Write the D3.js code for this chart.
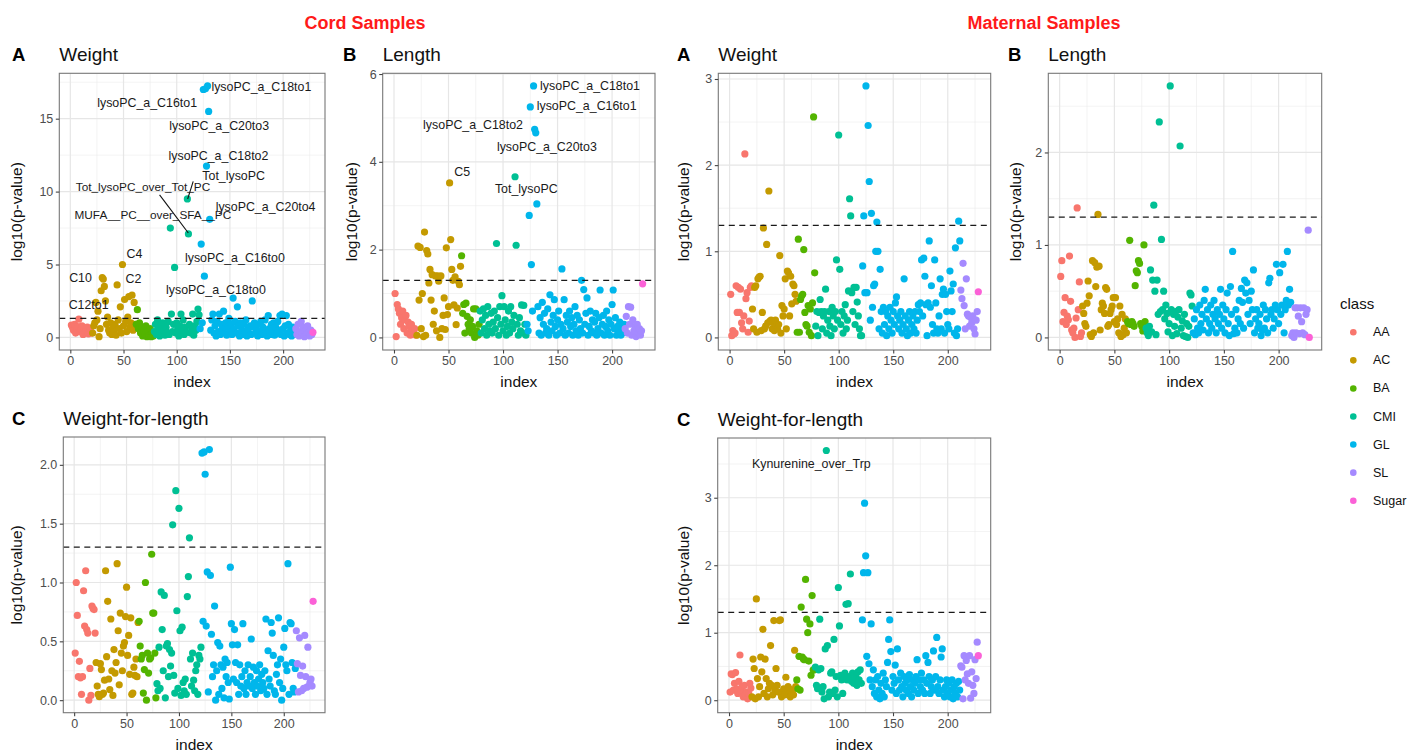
<!DOCTYPE html>
<html><head><meta charset="utf-8">
<script src="https://cdn.jsdelivr.net/npm/d3@7"></script>
<style>body{margin:0;background:#fff}svg text{font-family:"Liberation Sans",Arial,Helvetica,sans-serif}</style>
</head><body><svg id="c" width="1413" height="753"></svg>
<script>
// ---------- classes ----------
const classNames = ["AA","AC","BA","CMI","GL","SL","Sugar"];
const classColors = ["#F8766D","#C49A00","#53B400","#00C094","#00B6EB","#A58AFF","#FB61D7"];
const classStarts = [1,21,62,79,122,212,228];

// ---------- series (index 1..228) ----------
const cordWeight = [
 0.85,0.7,0.5,0.9,0.3,0.6,0.75,1.25,0.4,0.55,0.8,0.2,0.65,0.35,0.5,0.7,0.25,0.45,0.6,0.3,
 0.3,0.8,1.0,2.4,1.2,1.8,0.05,0.6,3.2,4.1,4.0,3.5,2.5,0.9,1.4,0.5,0.3,1.0,0.2,0.7,0.4,0.9,0.15,3.6,1.2,0.6,2.1,0.3,5.0,0.8,2.6,1.1,0.4,1.4,2.8,0.7,1.0,2.9,0.5,2.4,0.9,
 0.9,1.9,0.6,1.0,0.3,0.7,0.1,0.5,0.2,0.8,0.05,0.4,0.15,0.6,0.05,0.3,0.1,
 0.4,0.9,0.2,1.2,0.6,0.1,0.8,0.3,1.0,0.5,0.15,0.7,0.35,1.1,0.2,7.5,1.6,0.4,0.9,4.8,0.3,1.0,0.6,0.1,0.8,1.6,0.45,1.2,0.2,0.7,0.35,9.5,7.1,0.9,0.3,0.6,1.6,0.15,0.8,0.5,1.1,1.95,1.55,
 0.6,6.4,1.0,17.0,4.2,17.05,11.75,17.25,15.5,8.1,
 0.5,1.2,1.6,0.3,0.8,0.1,1.1,0.4,1.6,0.2,
 0.9,0.6,1.8,0.3,1.0,0.15,0.7,1.3,0.4,0.9,
 0.2,2.7,0.6,1.1,0.3,2.1,0.8,0.1,1.0,0.5,
 0.2,0.9,0.4,1.2,0.1,0.6,0.3,0.8,0.2,2.5,
 0.7,1.0,0.3,0.5,0.1,0.9,0.4,1.1,0.2,0.7,
 0.3,1.2,0.5,0.1,1.5,0.6,0.2,0.9,0.4,1.0,
 0.15,0.7,0.3,1.1,0.5,1.5,0.2,1.6,0.6,0.1,
 0.8,1.5,0.3,0.9,0.2,0.5,0.1,0.7,0.3,0.2,
 0.6,0.2,0.9,0.1,0.4,1.1,0.3,0.7,0.05,0.5,0.2,0.8,0.3,0.1,0.5,0.2,
 0.35
];
const cordLength = [
 1.0,0.02,0.75,0.65,0.55,0.3,0.45,0.6,0.2,0.4,0.5,0.1,0.35,0.25,0.05,0.3,0.15,0.1,0.2,0.05,
 0.05,2.08,0.85,2.05,0.2,1.0,0.02,2.4,0.05,1.98,
 1.9,1.24,1.55,0.85,1.43,0.3,0.6,1.4,0.15,1.4,
 1.28,0.0,1.4,0.2,0.5,0.9,0.18,2.04,0.52,0.7,
 3.52,2.23,1.55,1.3,0.74,1.38,0.29,0.67,1.28,1.2,
 1.62,
 1.86,0.55,0.75,0.1,0.78,0.48,0.3,0.2,0.4,0.1,0.25,0.65,0.0,0.65,0.15,0.05,0.3,
 0.6,0.1,0.4,0.65,0.2,0.5,0.05,0.7,0.3,0.15,
 0.55,0.1,0.35,0.6,0.2,2.14,0.45,0.05,0.7,0.3,
 0.95,0.15,0.7,0.4,0.05,0.25,0.6,0.1,0.7,0.35,
 0.2,0.5,3.66,2.1,0.3,0.05,0.45,0.15,0.74,0.1,
 0.73,0.3,0.05,
 0.3,0.15,2.78,5.25,1.66,0.6,5.73,4.74,4.66,3.04,
 0.7,0.1,0.45,0.05,0.8,0.3,0.55,0.1,0.2,0.65,
 0.05,0.97,0.35,0.15,0.5,0.86,0.25,0.05,0.4,0.6,
 0.1,0.3,1.56,0.2,0.86,0.05,0.5,0.35,0.1,0.6,
 0.25,0.45,0.05,0.3,0.7,0.15,0.5,0.05,0.4,0.2,
 1.3,0.1,1.09,0.3,0.55,0.9,0.05,0.25,0.6,0.15,
 0.4,0.1,0.35,0.55,0.05,0.2,0.45,1.08,0.1,0.3,
 0.5,0.05,0.25,0.6,0.15,0.4,0.05,0.3,0.75,1.08,
 0.2,0.45,0.05,0.25,0.1,0.35,0.05,0.2,0.1,0.3,
 0.2,0.48,0.1,0.7,0.3,0.69,0.05,0.4,0.15,0.25,0.02,0.3,0.1,0.2,0.05,0.15,
 1.22
];
const cordWFL = [
 0.4,1.0,0.72,0.2,0.33,0.19,0.05,0.2,0.93,0.63,1.1,0.6,0.57,0.0,0.27,0.04,0.8,0.78,0.77,0.57,
 0.32,0.12,0.05,0.03,0.31,0.26,0.05,0.06,0.17,1.1,
 0.37,0.84,0.18,0.09,0.69,0.25,0.04,0.43,0.23,0.32,
 1.16,0.59,0.13,0.74,0.4,0.25,0.46,0.49,0.71,0.96,
 0.38,0.55,0.22,0.7,0.05,0.06,0.28,0.21,0.35,0.2,
 0.66,
 0.67,0.46,0.35,0.38,0.06,0.26,1.0,0.0,0.4,0.23,0.35,0.36,1.24,0.74,0.74,0.4,0.02,
 0.14,0.08,0.45,0.1,0.92,0.6,0.25,0.89,0.02,0.46,
 0.48,0.2,0.43,0.29,0.4,1.49,0.21,0.06,1.78,0.76,
 0.1,1.63,0.59,0.04,0.62,0.15,0.08,0.18,0.05,0.88,
 1.05,1.38,0.35,0.12,0.4,0.17,0.08,0.25,0.3,0.05,
 0.38,0.35,0.45,
 2.1,0.67,2.11,1.92,0.63,1.09,0.07,2.13,1.06,0.56,
 0.2,0.3,0.8,0.0,0.25,0.49,0.05,0.46,0.3,0.1,
 0.28,0.02,0.35,0.2,0.32,0.15,0.01,1.13,0.65,0.47,
 0.18,0.6,0.32,0.15,0.47,0.05,0.3,0.12,0.2,0.65,
 0.1,0.25,0.05,0.15,0.3,0.12,0.2,0.52,0.1,0.28,
 0.15,0.05,0.25,0.12,0.18,0.3,0.08,0.22,0.15,0.1,
 0.25,0.69,0.05,0.42,0.18,0.12,0.66,0.57,0.38,0.08,
 0.05,0.22,0.3,0.7,0.15,0.35,0.0,0.1,0.45,0.61,
 0.3,0.25,1.16,0.05,0.66,0.65,0.32,0.1,0.07,0.27,
 0.59,0.31,0.07,0.53,0.21,0.08,0.29,0.1,0.55,0.2,0.11,0.45,0.12,0.15,0.18,0.12,
 0.84
];
const matWeight = [
 0.5,0.02,0.08,0.04,0.05,0.6,0.29,0.58,0.29,0.56,0.17,0.1,0.25,2.13,0.45,0.52,0.06,0.19,0.58,0.6,
 0.33,0.1,0.58,0.6,0.06,0.68,0.7,0.71,0.08,0.29,
 1.27,0.1,0.13,1.08,0.17,1.7,0.19,0.2,0.1,0.17,
 0.08,0.2,0.13,0.1,0.15,0.95,0.05,0.37,0.25,0.33,
 0.68,0.1,0.77,0.75,0.25,0.71,0.39,0.62,0.6,0.5,
 0.42,
 0.06,1.14,0.06,0.44,0.48,0.5,1.02,0.29,0.15,0.13,0.37,0.06,0.33,0.02,0.4,2.56,0.75,
 0.13,0.3,0.02,0.29,0.44,0.3,0.1,0.25,0.3,0.56,
 0.05,0.2,0.3,0.13,0.02,0.35,0.25,0.1,0.3,0.9,
 0.2,2.35,0.79,0.15,0.3,0.05,0.25,0.38,0.1,0.2,
 0.54,1.61,1.41,0.52,0.3,0.58,0.15,0.58,0.41,0.25,
 0.1,0.02,0.02,
 0.83,1.41,0.52,2.92,0.52,2.46,1.81,0.2,1.44,0.35,
 0.6,0.62,1.0,1.34,1.0,0.1,0.79,0.3,0.05,0.35,
 0.15,0.3,0.02,0.25,0.1,0.35,0.2,0.05,0.3,0.15,
 0.4,0.47,0.25,0.1,0.2,0.3,0.05,0.15,0.68,0.25,
 0.1,0.02,0.2,0.3,0.05,0.15,0.25,0.1,0.3,0.05,
 0.2,0.38,0.3,0.4,0.9,0.25,0.92,0.71,0.38,0.02,
 0.4,1.12,0.35,0.6,0.15,0.05,0.9,0.4,0.1,0.05,
 0.25,0.68,0.1,0.5,0.56,0.05,0.5,0.3,0.15,0.1,
 0.77,0.54,0.3,0.62,0.05,1.04,0.02,0.1,1.35,1.12,
 0.55,0.45,0.86,0.37,0.1,0.68,0.27,0.25,0.13,0.23,0.17,0.25,0.1,0.04,0.2,0.3,
 0.53
];
const matLength = [
 0.66,0.83,0.17,0.27,0.43,0.14,0.23,0.19,0.88,0.39,0.08,0.05,0.1,0.0,0.21,1.4,0.3,0.6,0.01,0.05,
 0.34,0.26,0.15,0.12,0.37,0.61,0.45,0.03,0.01,0.83,
 0.05,0.81,0.55,0.76,1.33,0.77,0.08,0.3,0.37,0.34,
 0.26,0.54,0.52,0.12,0.14,0.26,0.3,0.34,0.43,0.17,
 0.43,0.14,0.2,0.05,0.34,0.01,0.25,0.03,0.1,0.2,
 0.05,
 0.17,0.15,1.05,0.14,0.17,0.15,0.12,0.56,0.72,0.7,0.83,0.8,0.15,0.12,0.07,1.0,0.17,
 0.1,0.05,0.02,0.12,0.73,0.06,0.62,1.43,0.5,0.03,
 0.62,0.25,2.33,0.28,1.06,0.3,0.5,0.2,0.35,0.26,
 0.06,0.15,2.72,0.3,0.02,0.25,0.12,0.28,0.04,0.22,
 0.3,2.07,0.1,0.18,0.02,0.25,0.01,0.15,0.0,0.12,
 0.48,0.46,0.34,
 0.05,0.2,0.03,0.3,0.1,0.05,0.35,0.15,0.25,0.08,
 0.4,0.52,0.2,0.3,0.05,0.15,0.35,0.1,0.25,0.4,
 0.2,0.05,0.3,0.15,0.25,0.52,0.1,0.35,0.2,0.05,
 0.3,0.48,0.15,0.02,0.55,0.25,0.93,0.04,0.1,0.3,
 0.05,0.2,0.4,0.15,0.53,0.38,0.1,0.62,0.48,0.59,
 0.25,0.4,0.15,0.5,0.3,0.73,0.05,0.2,0.3,0.1,
 0.15,0.25,0.02,0.08,0.35,0.1,0.3,0.2,0.05,0.59,
 0.64,0.25,0.3,0.1,0.2,0.35,0.79,0.3,0.15,0.7,
 0.25,0.35,0.79,0.05,0.3,0.4,0.93,0.35,0.52,0.38,
 0.02,0.05,0.0,0.32,0.05,0.32,0.23,0.04,0.32,0.17,0.05,0.32,0.03,0.25,0.3,1.16,
 0.0
];
const matWFL = [
 0.12,0.39,0.38,0.15,0.25,0.41,0.17,0.1,0.28,0.67,0.13,0.2,0.05,0.22,0.08,0.12,0.02,0.1,0.25,0.18,
 0.05,0.61,0.47,0.02,1.5,0.32,0.05,0.2,0.64,0.42,
 1.05,0.1,0.61,0.32,0.05,0.17,0.25,0.81,0.22,0.08,
 1.18,0.15,0.47,0.22,0.12,1.18,1.19,0.05,0.12,0.17,
 0.08,0.34,0.1,0.2,0.17,0.05,0.12,0.15,0.08,0.74,
 0.2,
 0.3,0.17,0.65,0.15,1.38,0.64,0.61,0.6,1.79,1.2,1.0,0.58,1.13,0.37,1.55,0.45,0.45,
 0.49,0.22,0.17,0.45,1.2,0.47,0.12,0.2,0.02,0.76,
 3.7,0.81,0.05,0.12,0.4,0.42,0.1,0.9,0.15,0.35,
 0.05,1.67,1.1,0.37,0.3,0.1,0.32,0.4,1.42,0.3,
 1.43,0.35,1.87,0.28,0.4,0.25,0.3,0.35,0.22,0.42,
 0.3,0.45,0.25,
 1.19,1.89,2.92,2.14,0.65,1.89,0.54,0.3,1.13,0.2,
 0.45,0.1,0.3,0.05,0.35,0.15,0.02,0.25,0.1,0.4,
 0.05,0.3,0.2,0.56,0.9,1.19,0.72,0.15,0.35,0.25,
 0.52,0.1,0.76,0.3,0.15,0.4,0.2,0.05,0.35,0.25,
 0.15,0.3,0.1,0.38,0.2,0.05,0.3,0.15,0.25,0.35,
 0.6,0.1,0.3,0.2,0.4,0.15,0.3,0.1,0.66,0.25,
 0.56,0.35,0.1,0.2,0.3,0.73,0.15,0.35,0.93,0.2,
 0.1,0.3,0.64,0.76,0.15,0.05,0.2,0.3,0.1,0.25,
 0.05,0.15,0.3,0.02,0.2,0.1,0.25,0.05,0.28,0.15,
 0.51,0.49,0.02,0.66,0.3,0.59,0.39,0.25,0.66,0.03,0.42,0.22,0.1,0.6,0.32,0.86,
 0.66
];

// ---------- tick values ----------
const xTicks = [0,50,100,150,200];
const cordWeightTicks = [0,5,10,15];
const cordLengthTicks = [0,2,4,6];
const cordWFLTicks = [0,0.5,1.0,1.5,2.0];
const matWeightTicks = [0,1,2,3];
const matLengthTicks = [0,1,2];
const matWFLTicks = [0,1,2,3];
const threshold = 1.30103; // -log10(0.05)

// ---------- annotation texts (label text, labeled index) ----------
const cordWeightLabels = [
 {text:"lysoPC_a_C18to1", idx:129, lx:132.6, ly:17.2, anchor:"start"},
 {text:"lysoPC_a_C16to1", idx:127, lx:72.2, ly:16.08, anchor:"middle"},
 {text:"lysoPC_a_C20to3", idx:130, lx:139.9, ly:14.47, anchor:"middle"},
 {text:"lysoPC_a_C18to2", idx:128, lx:139.2, ly:12.46, anchor:"middle"},
 {text:"Tot_lysoPC", idx:110, lx:153.5, ly:11.1, anchor:"middle"},
 {text:"Tot_lysoPC_over_Tot_PC", idx:111, lx:68.3, ly:10.3, anchor:"middle"},
 {text:"MUFA__PC__over_SFA__PC", idx:94, lx:77.6, ly:8.42, anchor:"middle"},
 {text:"lysoPC_a_C20to4", idx:131, lx:183.5, ly:8.95, anchor:"middle"},
 {text:"lysoPC_a_C16to0", idx:123, lx:154.7, ly:5.45, anchor:"middle"},
 {text:"lysoPC_a_C18to0", idx:126, lx:136.9, ly:3.27, anchor:"middle"},
 {text:"C4", idx:49, lx:60.2, ly:5.72, anchor:"middle"},
 {text:"C10", idx:30, lx:9.6, ly:4.07, anchor:"middle"},
 {text:"C2", idx:51, lx:59.3, ly:4.0, anchor:"middle"},
 {text:"C12to1", idx:24, lx:17.2, ly:2.24, anchor:"middle"}
];
const cordWeightSegs = [
 {x1:83.9, y1:9.78, x2:110.9, y2:7.16},
 {x1:110.3, y1:9.49, x2:115.5, y2:10.7}
];
const cordLengthLabels = [
 {text:"lysoPC_a_C18to1", idx:128, lx:134, ly:5.72, anchor:"start"},
 {text:"lysoPC_a_C16to1", idx:125, lx:130.9, ly:5.27, anchor:"start"},
 {text:"lysoPC_a_C18to2", idx:129, lx:72.5, ly:4.83, anchor:"middle"},
 {text:"lysoPC_a_C20to3", idx:130, lx:140.2, ly:4.33, anchor:"middle"},
 {text:"C5", idx:51, lx:62.5, ly:3.76, anchor:"middle"},
 {text:"Tot_lysoPC", idx:111, lx:121.3, ly:3.37, anchor:"middle"}
];
const matWFLLabels = [
 {text:"Kynurenine_over_Trp", idx:89, lx:75.3, ly:3.5, anchor:"middle"}
];

// ---------- layout ----------
const panels = [
 {data:cordWeight, ticks:cordWeightTicks, fmt:d3.format("d"), tag:"A", title:"Weight", box:[59.3,325,73.3,350], tagX:12, yTitleX:16.7, labels:cordWeightLabels, segs:cordWeightSegs},
 {data:cordLength, ticks:cordLengthTicks, fmt:d3.format("d"), tag:"B", title:"Length", box:[382.7,655,73.3,350], tagX:343, yTitleX:351.7, labels:cordLengthLabels, segs:[]},
 {data:matWeight, ticks:matWeightTicks, fmt:d3.format("d"), tag:"A", title:"Weight", box:[718.3,990.7,73.3,350], tagX:677, yTitleX:683.3, labels:[], segs:[]},
 {data:matLength, ticks:matLengthTicks, fmt:d3.format("d"), tag:"B", title:"Length", box:[1048.3,1321.7,73.3,350], tagX:1008, yTitleX:1015, labels:[], segs:[]},
 {data:cordWFL, ticks:cordWFLTicks, fmt:d3.format(".1f"), tag:"C", title:"Weight-for-length", box:[63.3,325,437,712.7], tagX:12, yTitleX:16.7, labels:[], segs:[]},
 {data:matWFL, ticks:matWFLTicks, fmt:d3.format("d"), tag:"C", title:"Weight-for-length", box:[717.7,990.7,438,712.7], tagX:677, yTitleX:683.3, labels:matWFLLabels, segs:[]}
];

const svg = d3.select("#c");
svg.append("rect").attr("width",1413).attr("height",753).attr("fill","#fff");

function classOf(i){ let c=0; for(let k=0;k<classStarts.length;k++){ if(i>=classStarts[k]) c=k; } return c; }

panels.forEach(p=>{
  const [l,r,t,b] = p.box;
  const n = p.data.length;
  const pts = p.data.map((v,i)=>({idx:i+1, v, c:classOf(i+1)}));
  const xs = d3.scaleLinear().domain([1-0.05*(n-1), n+0.05*(n-1)]).range([l,r]);
  const ymax = d3.max(p.data);
  const ys = d3.scaleLinear().domain([-0.05*ymax, 1.05*ymax]).range([b,t]);
  const g = svg.append("g");
  // grid
  const step = p.ticks[1]-p.ticks[0];
  const yMinor = d3.range(p.ticks[0]-step/2, ys.domain()[1], step).filter(v=>v>ys.domain()[0]);
  const xMinor = d3.range(-25, xs.domain()[1], 50).filter(v=>v>xs.domain()[0]);
  g.selectAll(".ymn").data(yMinor).join("line").attr("x1",l).attr("x2",r)
    .attr("y1",d=>ys(d)).attr("y2",d=>ys(d)).attr("stroke","#EBEBEB").attr("stroke-width",0.6);
  g.selectAll(".xmn").data(xMinor).join("line").attr("y1",t).attr("y2",b)
    .attr("x1",d=>xs(d)).attr("x2",d=>xs(d)).attr("stroke","#EBEBEB").attr("stroke-width",0.6);
  g.selectAll(".ymj").data(p.ticks).join("line").attr("x1",l).attr("x2",r)
    .attr("y1",d=>ys(d)).attr("y2",d=>ys(d)).attr("stroke","#E6E6E6").attr("stroke-width",1.2);
  g.selectAll(".xmj").data(xTicks).join("line").attr("y1",t).attr("y2",b)
    .attr("x1",d=>xs(d)).attr("x2",d=>xs(d)).attr("stroke","#E6E6E6").attr("stroke-width",1.2);
  // points
  g.selectAll("circle").data(pts).join("circle")
    .attr("cx",d=>xs(d.idx)).attr("cy",d=>ys(d.v)).attr("r",3.6)
    .attr("fill",d=>classColors[d.c]);
  // threshold
  g.append("line").attr("x1",l).attr("x2",r).attr("y1",ys(threshold)).attr("y2",ys(threshold))
    .attr("stroke","#1a1a1a").attr("stroke-width",1.3).attr("stroke-dasharray","6,4.5");
  // segments
  p.segs.forEach(s=>{
    g.append("line").attr("x1",xs(s.x1)).attr("y1",ys(s.y1)).attr("x2",xs(s.x2)).attr("y2",ys(s.y2))
     .attr("stroke","#111").attr("stroke-width",1.1);
  });
  // labels
  g.selectAll(".lab").data(p.labels).join("text")
    .attr("x",d=>xs(d.lx)).attr("y",d=>ys(d.ly)).attr("text-anchor",d=>d.anchor)
    .attr("dominant-baseline","central").attr("font-size",d=>d.text.length>20?11.8:12.4)
    .attr("fill","#1a1a1a").text(d=>d.text);
  // border
  g.append("rect").attr("x",l).attr("y",t).attr("width",r-l).attr("height",b-t)
    .attr("fill","none").attr("stroke","#777").attr("stroke-width",1.1);
  // axes
  const ya = d3.axisLeft(ys).tickValues(p.ticks).tickFormat(p.fmt).tickSize(3.5).tickPadding(2.5);
  const yg = g.append("g").attr("transform",`translate(${l},0)`).call(ya);
  const xa = d3.axisBottom(xs).tickValues(xTicks).tickFormat(d3.format("d")).tickSize(3.5).tickPadding(3);
  const xg = g.append("g").attr("transform",`translate(0,${b})`).call(xa);
  [yg,xg].forEach(a=>{
    a.select(".domain").remove();
    a.selectAll(".tick line").attr("stroke","#444").attr("stroke-width",1.1);
    a.selectAll(".tick text").attr("fill","#4D4D4D").attr("font-size",12.5)
      .style("font-family",'"Liberation Sans",Arial,sans-serif');
  });
  // axis titles
  g.append("text").attr("x",(l+r)/2).attr("y",b+37).attr("text-anchor","middle")
    .attr("font-size",15.5).attr("fill","#111").text("index");
  g.append("text").attr("transform",`translate(${p.yTitleX},${(t+b)/2}) rotate(-90)`)
    .attr("text-anchor","middle").attr("dominant-baseline","central")
    .attr("font-size",15.5).attr("fill","#111").text("log10(p-value)");
  // title & tag
  g.append("text").attr("x",l).attr("y",t-12).attr("font-size",19).attr("fill","#111").text(p.title);
  g.append("text").attr("x",p.tagX).attr("y",t-12).attr("font-size",18.5).attr("font-weight","bold").attr("fill","#000").text(p.tag);
});

// super titles
svg.append("text").attr("x",365).attr("y",29).attr("text-anchor","middle").attr("font-size",18)
  .attr("font-weight","bold").attr("fill","#FF1A1A").text("Cord Samples");
svg.append("text").attr("x",1044).attr("y",29).attr("text-anchor","middle").attr("font-size",18)
  .attr("font-weight","bold").attr("fill","#FF1A1A").text("Maternal Samples");

// legend
const lg = svg.append("g");
lg.append("text").attr("x",1340).attr("y",303).attr("dominant-baseline","central")
  .attr("font-size",15).attr("fill","#111").text("class");
const ly = d3.scalePoint().domain(classNames).range([332.3,500.7]);
lg.selectAll("circle").data(classNames).join("circle")
  .attr("cx",1353.3).attr("cy",d=>ly(d)).attr("r",3.3).attr("fill",(d,i)=>classColors[i]);
lg.selectAll(".lt").data(classNames).join("text")
  .attr("x",1373).attr("y",d=>ly(d)).attr("dominant-baseline","central")
  .attr("font-size",12.5).attr("fill","#111").text(d=>d);
</script>
</body></html>
